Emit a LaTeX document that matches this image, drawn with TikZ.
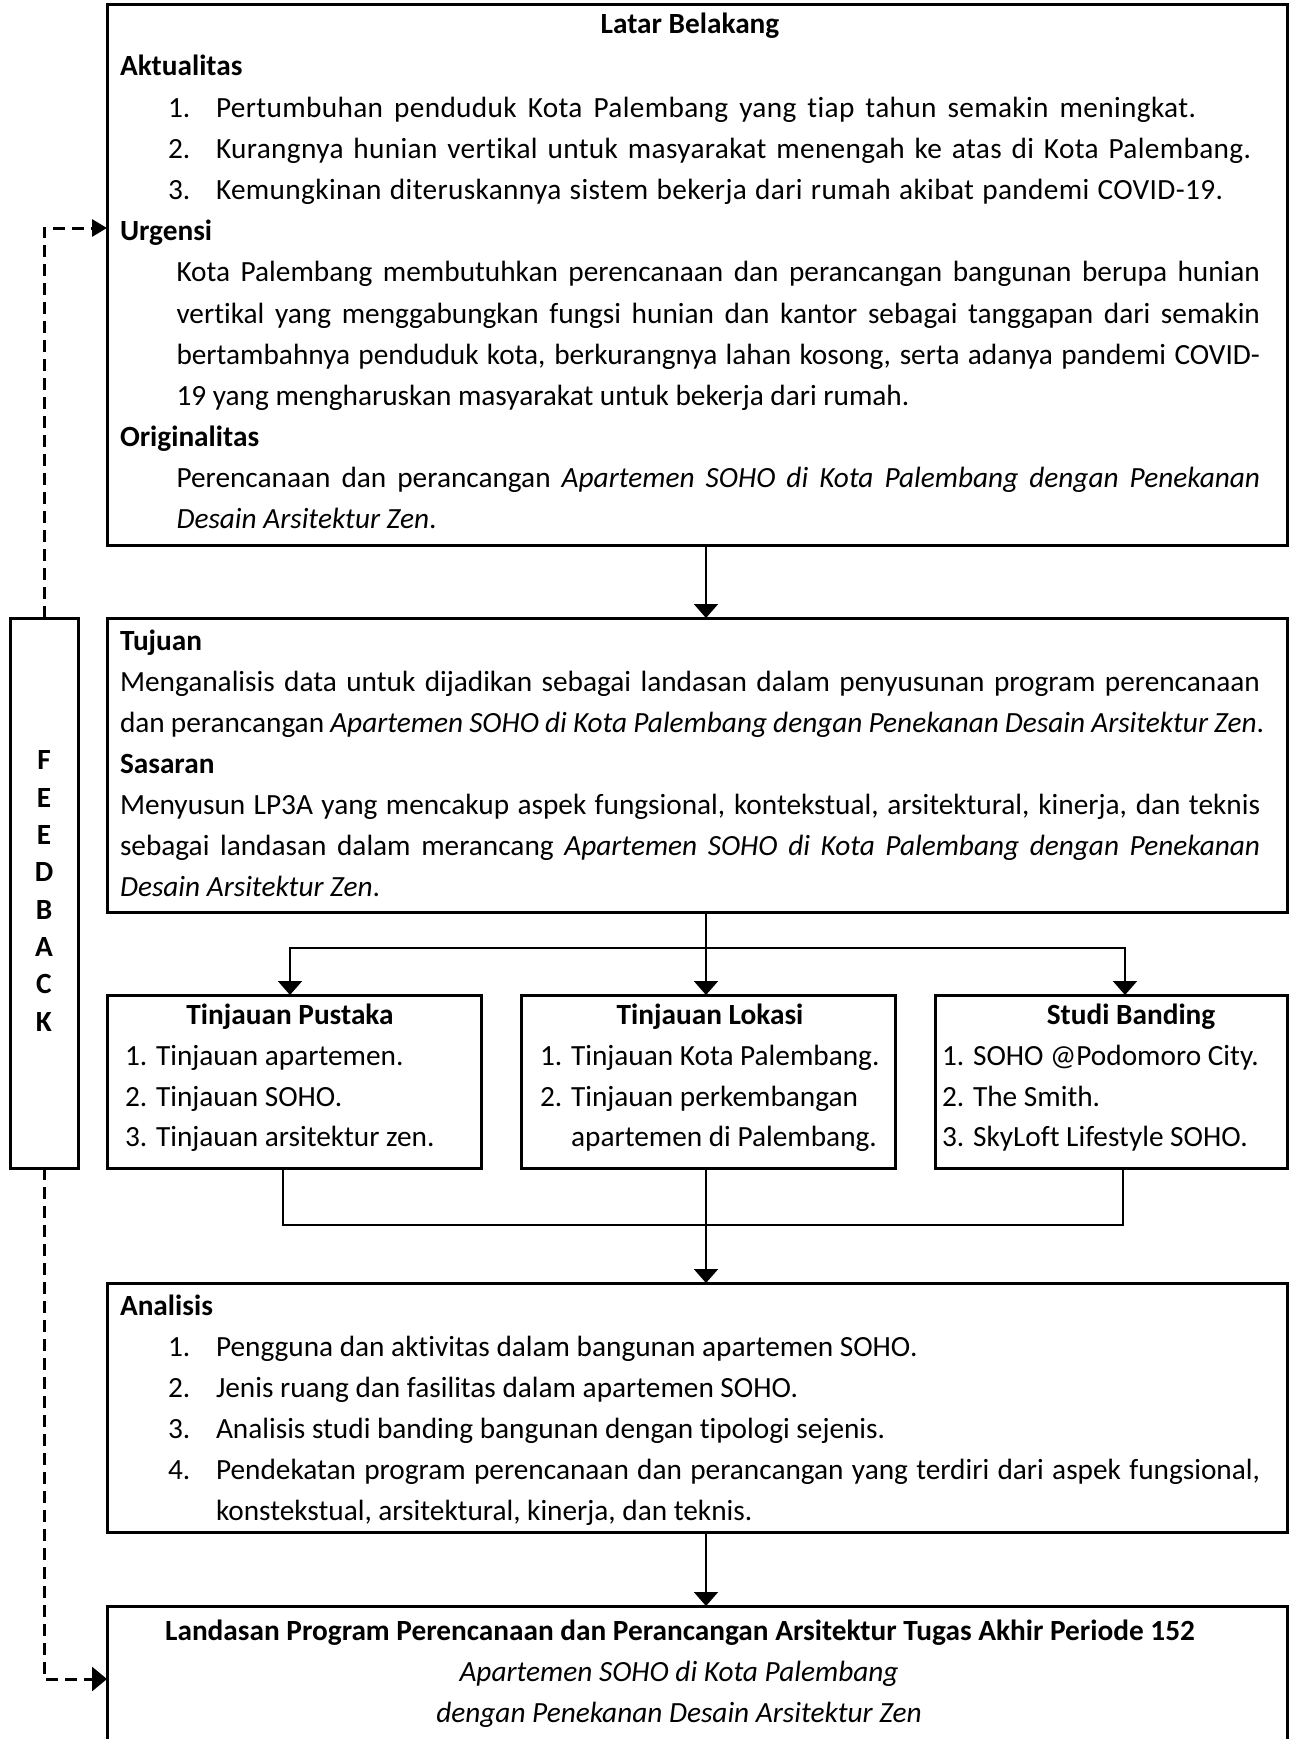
\documentclass[tikz,border=0pt]{standalone}
\usepackage{fontspec}
\setmainfont{Carlito}[Ligatures=NoCommon]
\usetikzlibrary{arrows.meta}
\newcommand{\mysz}{\fontsize{29.3}{41}\selectfont}
\newcommand{\wideltr}{\addfontfeatures{LetterSpace=1.2}}
\hbadness=10000
\hfuzz=50pt
\begin{document}
\begin{tikzpicture}[x=1pt,y=-1pt,
  box/.style={draw, line width=3pt, anchor=north west, inner sep=0pt, outer sep=0pt},
  conn/.style={line width=2pt},
  arr/.style={conn, -{Triangle[length=14pt,width=24pt]}},
  arrboth/.style={conn, {Triangle[length=14pt,width=24pt]}-{Triangle[length=14pt,width=24pt]}},
  fb/.style={line width=3pt, dash pattern=on 12pt off 7pt},
  t/.style={anchor=base west, inner sep=0pt, outer sep=0pt, font=\mysz},
  tw/.style={t, font=\mysz\wideltr},
  tb/.style={t, font=\mysz\bfseries},
  tc/.style={anchor=base, inner sep=0pt, outer sep=0pt, font=\mysz},
  tcb/.style={tc, font=\mysz\bfseries},
]
\useasboundingbox (0,0) rectangle (1290,1739);
\clip (0,0) rectangle (1290,1739);

% boxes
\node[box, minimum width=1180pt, minimum height=540pt] (top) at (107,5) {};
\node[box, minimum width=1180pt, minimum height=294pt] (tujuan) at (107,618) {};
\node[box, minimum width=68pt, minimum height=550pt] (fbbox) at (10,618) {};
\node[box, minimum width=374pt, minimum height=173pt] (pustaka) at (107,995) {};
\node[box, minimum width=374pt, minimum height=173pt] (lokasi) at (521,995) {};
\node[box, minimum width=352pt, minimum height=173pt] (banding) at (935,995) {};
\node[box, minimum width=1180pt, minimum height=249pt] (analisis) at (107,1283) {};
\node[box, minimum width=1180pt, minimum height=220pt] (bot) at (107,1606) {};

% top box text
\node[tcb] (lb) at (690,34) {Latar Belakang};
\node[tb] (akt) at (120,75.1) {Aktualitas};
\node[t] (a1n) at (168,117.5) {1.};
\node[tw] (a1) at (216,117.5) {\hbox to 980pt{Pertumbuhan penduduk Kota Palembang yang tiap tahun semakin meningkat.}};
\node[t] (a2n) at (168,158.6) {2.};
\node[tw] (a2) at (216,158.6) {\hbox to 1035pt{Kurangnya hunian vertikal untuk masyarakat menengah ke atas di Kota Palembang.}};
\node[t] (a3n) at (168,199.7) {3.};
\node[tw] (a3) at (216,199.7) {\hbox to 1007pt{Kemungkinan diteruskannya sistem bekerja dari rumah akibat pandemi COVID-19.}};
\node[tb] (urg) at (120,240.8) {Urgensi};
\node[t] (u1) at (176.5,281.9) {\hbox to 1083.5pt{Kota Palembang membutuhkan perencanaan dan perancangan bangunan berupa hunian}};
\node[t] (u2) at (176.5,323) {\hbox to 1083.5pt{vertikal yang menggabungkan fungsi hunian dan kantor sebagai tanggapan dari semakin}};
\node[t] (u3) at (176.5,364.1) {\hbox to 1083.5pt{bertambahnya penduduk kota, berkurangnya lahan kosong, serta adanya pandemi COVID-}};
\node[t] (u4) at (176.5,405.2) {19 yang mengharuskan masyarakat untuk bekerja dari rumah.};
\node[tb] (ori) at (120,446.3) {Originalitas};
\node[t] (o1) at (176.5,487.4) {\hbox to 1083.5pt{Perencanaan dan perancangan \textit{Apartemen SOHO di Kota Palembang dengan Penekanan}}};
\node[t] (o2) at (176.5,528.5) {\textit{Desain Arsitektur Zen}.};

% tujuan box text
\node[tb] (tuj) at (120,650.5) {Tujuan};
\node[t] (tj1) at (120,691.5) {\hbox to 1140pt{Menganalisis data untuk dijadikan sebagai landasan dalam penyusunan program perencanaan}};
\node[t] (tj2) at (120,732.5) {\hbox to 1144pt{dan perancangan \textit{Apartemen SOHO di Kota Palembang dengan Penekanan Desain Arsitektur Zen}.}};
\node[tb] (sas) at (120,773.5) {Sasaran};
\node[t] (s1) at (120,814.5) {\hbox to 1140pt{Menyusun LP3A yang mencakup aspek fungsional, kontekstual, arsitektural, kinerja, dan teknis}};
\node[t] (s2) at (120,855.5) {\hbox to 1140pt{sebagai landasan dalam merancang \textit{Apartemen SOHO di Kota Palembang dengan Penekanan}}};
\node[t] (s3) at (120,896.5) {\textit{Desain Arsitektur Zen}.};

% feedback
\node[inner sep=0pt, align=center, font=\fontsize{29.3}{37.3}\selectfont\bfseries] (fbt) at (44,891) {F\\E\\E\\D\\B\\A\\C\\K};

% three boxes
\node[tcb] (pt) at (290,1024) {Tinjauan Pustaka};
\node[t] (p1) at (125,1065) {1. Tinjauan apartemen.};
\node[t] (p2) at (125,1106) {2. Tinjauan SOHO.};
\node[t] (p3) at (125,1146) {3. Tinjauan arsitektur zen.};
\node[tcb] (lt) at (710,1024) {Tinjauan Lokasi};
\node[t] (l1) at (540,1065) {1. Tinjauan Kota Palembang.};
\node[t] (l2) at (540,1106) {2. Tinjauan perkembangan};
\node[t] (l3) at (540,1146) {\phantom{2. }apartemen di Palembang.};
\node[tcb] (bt) at (1131,1024) {Studi Banding};
\node[t] (b1) at (942,1065) {1. SOHO @Podomoro City.};
\node[t] (b2) at (942,1106) {2. The Smith.};
\node[t] (b3) at (942,1146) {3. SkyLoft Lifestyle SOHO.};

% analisis
\node[tb] (ana) at (120,1315.5) {Analisis};
\node[t] (n1n) at (168,1356.5) {1.};
\node[t] (n1) at (216,1356.5) {Pengguna dan aktivitas dalam bangunan apartemen SOHO.};
\node[t] (n2n) at (168,1397.5) {2.};
\node[t] (n2) at (216,1397.5) {Jenis ruang dan fasilitas dalam apartemen SOHO.};
\node[t] (n3n) at (168,1438.5) {3.};
\node[t] (n3) at (216,1438.5) {Analisis studi banding bangunan dengan tipologi sejenis.};
\node[t] (n4n) at (168,1479.5) {4.};
\node[t] (n4) at (216,1479.5) {\hbox to 1044pt{Pendekatan program perencanaan dan perancangan yang terdiri dari aspek fungsional,}};
\node[t] (n5) at (216,1520.5) {konstekstual, arsitektural, kinerja, dan teknis.};

% bottom
\node[tcb] (ld) at (680,1640) {Landasan Program Perencanaan dan Perancangan Arsitektur Tugas Akhir Periode 152};
\node[tc] (ld2) at (679,1681) {\textit{Apartemen SOHO di Kota Palembang}};
\node[tc] (ld3) at (679,1722) {\textit{dengan Penekanan Desain Arsitektur Zen}};

% connectors
\coordinate (mx) at (706,0);
\coordinate (bl) at (290,948);
\coordinate (br) at (1125,948);
\coordinate (ml) at (283,0);
\coordinate (mr) at (1123,0);
\coordinate (ym) at (0,1225);
\coordinate (yU) at (0,228);
\coordinate (yL) at (0,1679);
\draw[arr] (top.south -| mx) -- (tujuan.north -| mx);
\draw[arr] (tujuan.south -| mx) -- (lokasi.north -| mx);
\draw[arrboth] (pustaka.north -| bl) -- (bl) -- (br) -- (banding.north -| br);
\draw[conn] (pustaka.south -| ml) -- (ml |- ym) -- (mr |- ym) -- (banding.south -| mr);
\draw[arr] (lokasi.south -| mx) -- (analisis.north -| mx);
\draw[arr] (analisis.south -| mx) -- (bot.north -| mx);
\draw[fb, -{Triangle[length=15pt,width=17pt]}] (fbbox.north) -- (fbbox.north |- yU) -- (top.north west |- yU);
\draw[fb, -{Triangle[length=15pt,width=24pt]}] (fbbox.south) -- (fbbox.south |- yL) -- (bot.north west |- yL);
\end{tikzpicture}
\end{document}
